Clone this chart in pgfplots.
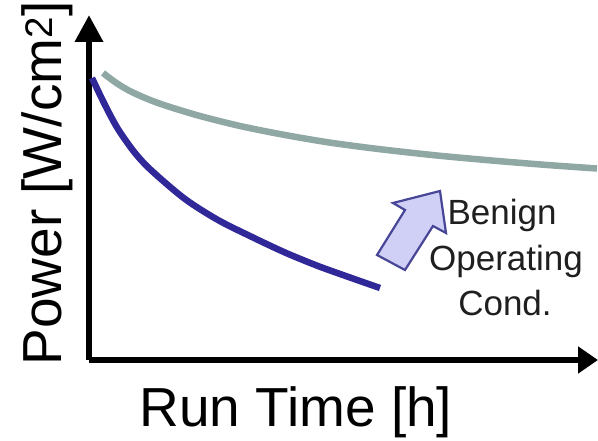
\documentclass[border=0pt]{standalone}
\usepackage{fontspec}
\setmainfont{Liberation Sans}
\usepackage{pgfplots}
\pgfplotsset{compat=1.18}
\usetikzlibrary{arrows.meta}
\definecolor{graycurve}{RGB}{143,168,163}
\definecolor{bluecurve}{RGB}{48,40,152}
\definecolor{arrowfill}{RGB}{208,208,246}
\definecolor{arrowdraw}{RGB}{72,70,150}
\begin{document}
\begin{tikzpicture}
\path[use as bounding box] (0,0) rectangle (598pt,440pt);
\begin{axis}[
  at={(89pt,80pt)}, anchor=south west,
  scale only axis, width=509pt, height=345pt,
  xmin=0, xmax=509, ymin=0, ymax=345,
  axis lines=left,
  axis line style={line width=6.5pt, black},
  x axis line style={-{Triangle[length=20pt,width=26pt]}},
  y axis line style={-{Triangle[length=27pt,width=27pt]}},
  xtick=\empty, ytick=\empty,
  clip=false,
  xlabel={Run Time [h]},
  ylabel={Power [W/cm\textsuperscript{2}]},
  xlabel style={at={(axis cs:47,-66)}, anchor=base west, font=\fontsize{55}{60}\selectfont},
  ylabel style={at={(axis cs:-27,-9)}, anchor=base west, rotate=0, font=\fontsize{55}{60}\selectfont},
]
% benign (gray) curve
\addplot[graycurve, line width=6.5pt, smooth] coordinates {
(14,287) (27,277.3) (41,268.9) (61,260) (81,253) (111,244) (151,234) (196,225)
(241,217.4) (291,210.8) (351,204.2) (411,198.8) (461,194.8) (508,191.5)};
% harsh (blue) curve
\addplot[bluecurve, line width=6.5pt, smooth] coordinates {
(3,282) (16,255) (29,231) (46,207) (63,189) (96,161) (129,140) (163,123)
(196,107.5) (229,94) (261,82.5) (291,72)};
% block arrow
\addplot[draw=arrowdraw, line width=2.2pt, fill=arrowfill, line join=miter] coordinates {
(351,169) (357,127) (344,134) (316,90) (288,105) (316,150) (304,157) (351,169)} -- cycle;
\node[anchor=base, font=\fontsize{35}{45}\selectfont, text=black!88] at (axis cs:413,136) {Benign};
\node[anchor=base, font=\fontsize{35}{45}\selectfont, text=black!88] at (axis cs:417,90) {Operating};
\node[anchor=base, font=\fontsize{35}{45}\selectfont, text=black!88] at (axis cs:416,45) {Cond.};
\end{axis}
\end{tikzpicture}
\end{document}
